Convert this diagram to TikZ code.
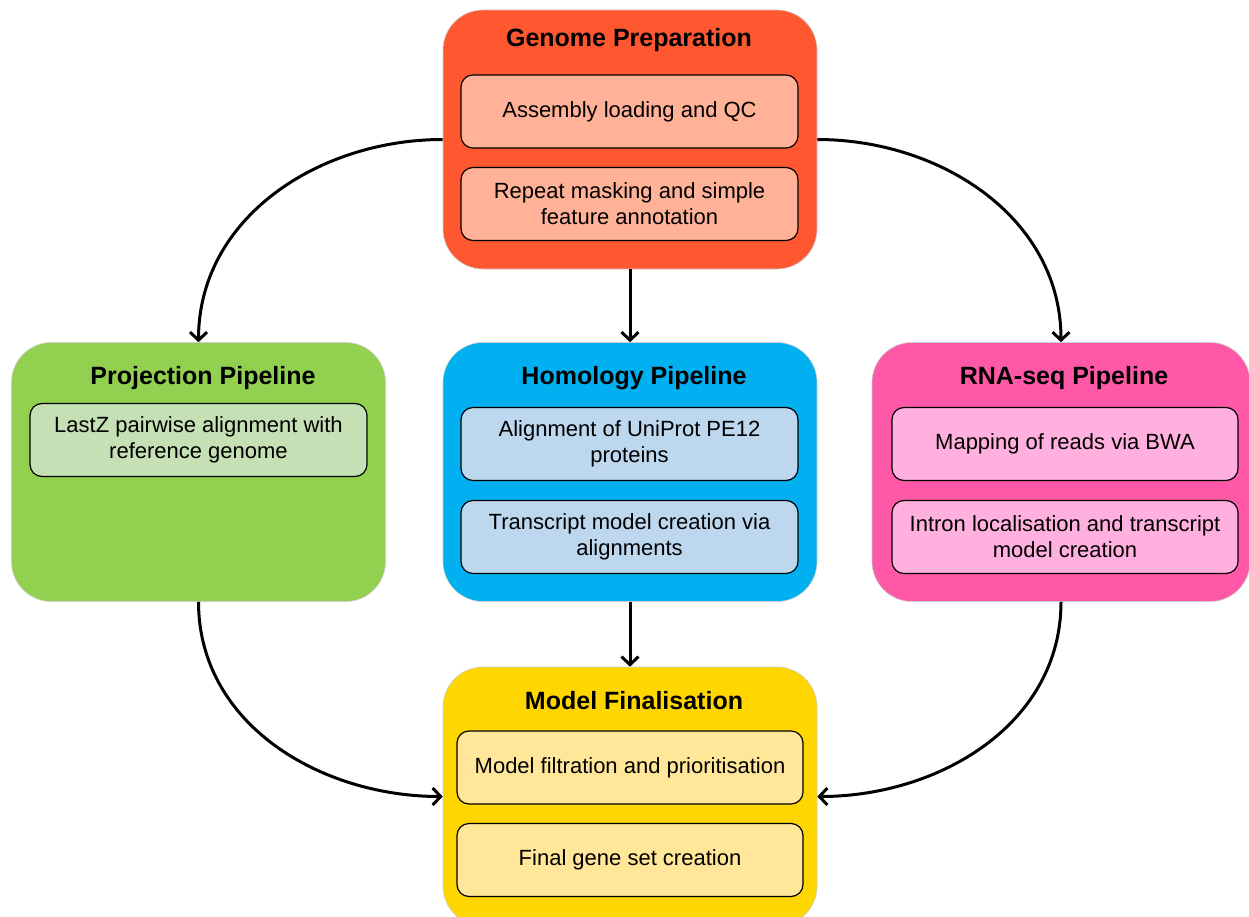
\documentclass[tikz,border=0pt]{standalone}
\usepackage{fontspec}
\setmainfont{Liberation Sans}
\usetikzlibrary{arrows.meta}

\definecolor{genOuter}{RGB}{255,87,48}
\definecolor{genInner}{RGB}{255,178,152}
\definecolor{projOuter}{RGB}{146,208,80}
\definecolor{projInner}{RGB}{197,224,180}
\definecolor{homOuter}{RGB}{0,176,240}
\definecolor{homInner}{RGB}{189,215,238}
\definecolor{rnaOuter}{RGB}{255,88,166}
\definecolor{rnaInner}{RGB}{255,176,222}
\definecolor{finOuter}{RGB}{255,214,0}
\definecolor{finInner}{RGB}{255,230,153}

\begin{document}
\begin{tikzpicture}[x=1pt, y=1pt,
  stage/.style={draw=black!20, line width=0.6pt, rounded corners=40pt,
    minimum width=374pt, minimum height=259pt, inner sep=0pt},
  substep/.style={draw=black, line width=1.2pt, rounded corners=12pt,
    minimum height=73pt, inner sep=0pt, align=center,
    font=\fontsize{22}{26}\selectfont},
  stagetitle/.style={font=\fontsize{25}{29}\selectfont\bfseries, inner sep=0pt},
  flow/.style={-{Straight Barb[length=8pt,width=17pt]}, line width=3pt}]
  \useasboundingbox (0,0) rectangle (1249,-917);
  \clip (0,0) rectangle (1249,-917);

  % genome preparation
  \node[stage, fill=genOuter] (gen) at (630,-139.5) {};
  \node[stagetitle] (genT) at (629,-40) {Genome Preparation};
  \node[substep, fill=genInner, minimum width=337pt] (gen1) at (629.5,-111.5) {Assembly loading and QC};
  \node[substep, fill=genInner, minimum width=337pt] (gen2) at (629.5,-204) {Repeat masking and simple\\feature annotation};

  % projection pipeline
  \node[stage, fill=projOuter] (proj) at (198.5,-472) {};
  \node[stagetitle] (projT) at (203,-378) {Projection Pipeline};
  \node[substep, fill=projInner, minimum width=337pt] (proj1) at (198.5,-440) {LastZ pairwise alignment with\\reference genome};

  % homology pipeline
  \node[stage, fill=homOuter] (hom) at (630,-472) {};
  \node[stagetitle] (homT) at (634,-378) {Homology Pipeline};
  \node[substep, fill=homInner, minimum width=337pt] (hom1) at (629.5,-444) {Alignment of UniProt PE12\\proteins};
  \node[substep, fill=homInner, minimum width=337pt] (hom2) at (629.5,-537) {Transcript model creation via\\alignments};

  % rna-seq pipeline
  \node[stage, fill=rnaOuter, minimum width=378pt] (rna) at (1061,-472) {};
  \node[stagetitle] (rnaT) at (1064,-378) {RNA-seq Pipeline};
  \node[substep, fill=rnaInner, minimum width=346pt] (rna1) at (1065,-444) {Mapping of reads via BWA};
  \node[substep, fill=rnaInner, minimum width=346pt] (rna2) at (1065,-537) {Intron localisation and transcript\\model creation};

  % model finalisation
  \node[stage, fill=finOuter] (fin) at (630,-796.5) {};
  \node[stagetitle] (finT) at (634,-701) {Model Finalisation};
  \node[substep, fill=finInner, minimum width=346pt] (fin1) at (630,-767.5) {Model filtration and prioritisation};
  \node[substep, fill=finInner, minimum width=346pt] (fin2) at (630,-860) {Final gene set creation};

  % connectors
  \draw[flow] (gen.west) to[out=180, in=90] (proj.north);
  \draw[flow] (gen.east) to[out=0, in=90] (rna.north);
  \draw[flow] (gen.south) -- (hom.north);
  \draw[flow] (hom.south) -- (fin.north);
  \draw[flow] (proj.south) to[out=-90, in=180] (fin.west);
  \draw[flow] (rna.south) to[out=-90, in=0] (fin.east);
\end{tikzpicture}
\end{document}
